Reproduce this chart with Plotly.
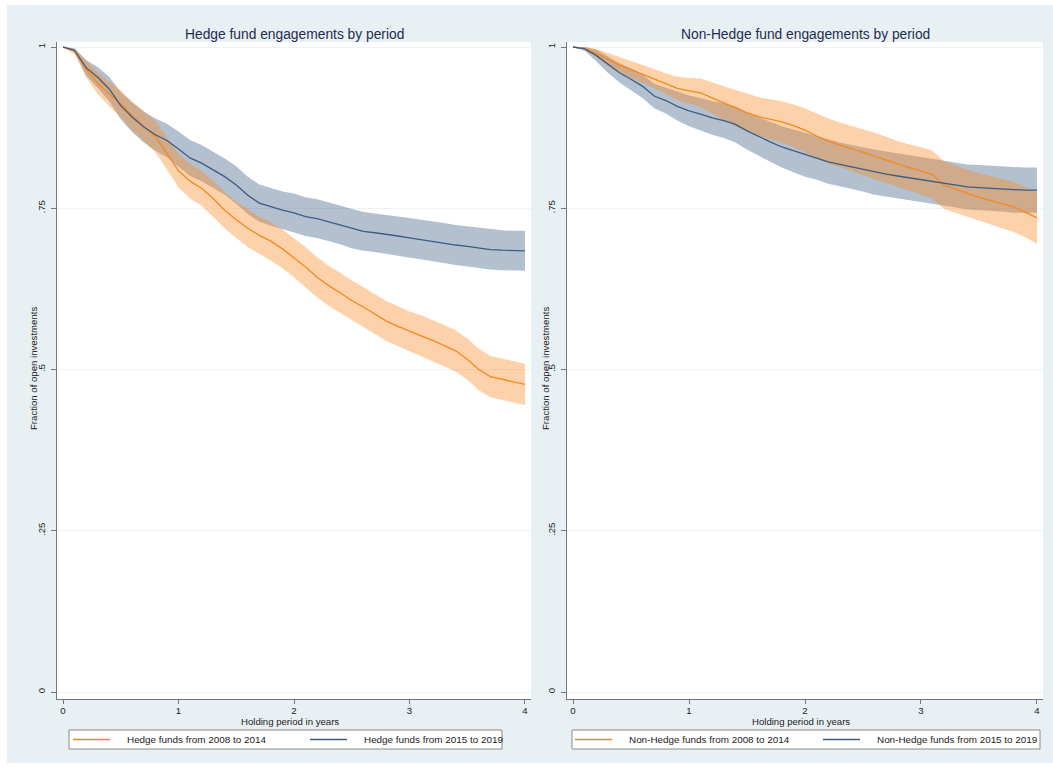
import plotly.graph_objects as go

# ---------------- data ----------------
years = [round(i * 0.1, 1) for i in range(41)]

# Hedge funds
hf_0814 = [1.000, 0.993, 0.966, 0.944, 0.927, 0.912, 0.893, 0.877, 0.861, 0.835,
           0.808, 0.792, 0.781, 0.765, 0.747, 0.732, 0.719, 0.708, 0.699, 0.687,
           0.673, 0.659, 0.643, 0.630, 0.619, 0.607, 0.597, 0.586, 0.575, 0.567,
           0.559, 0.552, 0.545, 0.537, 0.529, 0.516, 0.500, 0.489, 0.485, 0.481, 0.477]
hf_0814_ci = [0.000, 0.004, 0.013, 0.017, 0.019, 0.021, 0.022, 0.023, 0.024, 0.025,
              0.026, 0.027, 0.027, 0.028, 0.028, 0.028, 0.029, 0.029, 0.030, 0.030,
              0.030, 0.031, 0.031, 0.031, 0.031, 0.031, 0.031, 0.031, 0.031, 0.031,
              0.031, 0.032, 0.032, 0.032, 0.032, 0.032, 0.032, 0.032, 0.032, 0.032, 0.032]
hf_1519 = [1.000, 0.995, 0.968, 0.953, 0.935, 0.909, 0.891, 0.876, 0.864, 0.855,
           0.842, 0.828, 0.820, 0.810, 0.799, 0.786, 0.770, 0.758, 0.752, 0.747,
           0.743, 0.737, 0.734, 0.729, 0.724, 0.718, 0.714, 0.712, 0.710, 0.707,
           0.704, 0.701, 0.699, 0.696, 0.693, 0.691, 0.688, 0.686, 0.685, 0.684, 0.684]
hf_1519_ci = [0.000, 0.003, 0.012, 0.016, 0.019, 0.021, 0.023, 0.024, 0.025, 0.026,
              0.027, 0.028, 0.028, 0.028, 0.028, 0.029, 0.029, 0.029, 0.029, 0.029,
              0.030, 0.030, 0.030, 0.030, 0.030, 0.030, 0.030, 0.030, 0.030, 0.030,
              0.031, 0.031, 0.031, 0.031, 0.031, 0.031, 0.031, 0.031, 0.031, 0.031, 0.031]

# Non-Hedge funds
nh_0814 = [1.000, 0.998, 0.990, 0.981, 0.972, 0.965, 0.958, 0.951, 0.943, 0.936,
           0.932, 0.929, 0.921, 0.913, 0.905, 0.898, 0.892, 0.888, 0.884, 0.878,
           0.871, 0.862, 0.854, 0.848, 0.843, 0.837, 0.831, 0.825, 0.818, 0.813,
           0.808, 0.802, 0.786, 0.779, 0.773, 0.767, 0.762, 0.757, 0.752, 0.744, 0.735]
nh_0814_ci = [0.000, 0.002, 0.007, 0.010, 0.012, 0.013, 0.014, 0.015, 0.016, 0.018,
              0.020, 0.022, 0.024, 0.026, 0.028, 0.029, 0.030, 0.031, 0.032, 0.033,
              0.034, 0.035, 0.035, 0.035, 0.035, 0.036, 0.036, 0.036, 0.036, 0.036,
              0.037, 0.037, 0.037, 0.037, 0.037, 0.037, 0.038, 0.038, 0.039, 0.039, 0.040]
nh_1519 = [1.000, 0.997, 0.987, 0.973, 0.960, 0.950, 0.939, 0.924, 0.917, 0.908,
           0.901, 0.896, 0.890, 0.886, 0.880, 0.870, 0.861, 0.853, 0.845, 0.839,
           0.833, 0.828, 0.822, 0.818, 0.814, 0.810, 0.806, 0.803, 0.800, 0.797,
           0.794, 0.791, 0.789, 0.786, 0.783, 0.782, 0.781, 0.780, 0.778, 0.778, 0.778]
nh_1519_ci = [0.000, 0.003, 0.009, 0.013, 0.015, 0.017, 0.018, 0.019, 0.020, 0.022,
              0.024, 0.025, 0.026, 0.027, 0.028, 0.029, 0.030, 0.031, 0.032, 0.033,
              0.034, 0.034, 0.034, 0.034, 0.034, 0.034, 0.035, 0.035, 0.035, 0.035,
              0.035, 0.035, 0.035, 0.035, 0.035, 0.035, 0.035, 0.035, 0.035, 0.035, 0.035]

y_ticks = [0, 0.25, 0.5, 0.75, 1]
y_tick_labels = ["0", ".25", ".5", ".75", "1"]
x_ticks = [0, 1, 2, 3, 4]

panel_titles = ["Hedge fund engagements by period", "Non-Hedge fund engagements by period"]
x_title = "Holding period in years"
y_title = "Fraction of open investments"
legend_names = [["Hedge funds from 2008 to 2014", "Hedge funds from 2015 to 2019"],
                ["Non-Hedge funds from 2008 to 2014", "Non-Hedge funds from 2015 to 2019"]]

# ---------------- style ----------------
W, H = 1053, 767
BG = "#e9f0f3"
ORANGE = "#f5891f"
ORANGE_FILL = "rgba(250,140,40,0.40)"
BLUE = "#3d5c82"
BLUE_FILL = "rgba(65,98,136,0.40)"
FONT = "Liberation Sans, Arial, Helvetica, sans-serif"
TXT = "#222222"
SMALL = 9.6


def px_x(p):
    return p / W


def px_y(p):
    return 1 - p / H


fig = go.Figure()

panels = [
    dict(xa="x", ya="y",
         series=[(hf_1519, hf_1519_ci, BLUE, BLUE_FILL, legend_names[0][1]),
                 (hf_0814, hf_0814_ci, ORANGE, ORANGE_FILL, legend_names[0][0])]),
    dict(xa="x2", ya="y2",
         series=[(nh_1519, nh_1519_ci, BLUE, BLUE_FILL, legend_names[1][1]),
                 (nh_0814, nh_0814_ci, ORANGE, ORANGE_FILL, legend_names[1][0])]),
]

for p in panels:
    # confidence bands first (blue then orange)
    for vals, ci, lc, fc, name in p["series"]:
        upper = [v + c for v, c in zip(vals, ci)]
        lower = [v - c for v, c in zip(vals, ci)]
        fig.add_trace(go.Scatter(
            x=years + years[::-1], y=upper + lower[::-1],
            fill="toself", fillcolor=fc, line=dict(width=0),
            mode="lines", hoverinfo="skip", showlegend=False,
            xaxis=p["xa"], yaxis=p["ya"]))
    for vals, ci, lc, fc, name in p["series"][::-1]:
        fig.add_trace(go.Scatter(
            x=years, y=vals, mode="lines", name=name, showlegend=False,
            line=dict(color=lc, width=1.3),
            xaxis=p["xa"], yaxis=p["ya"]))

yrange = [(692 - 699) / 645, (692 - 42) / 645]
xr = [-0.052, 4.052]
ydom = [px_y(699), px_y(42)]

axis_common = dict(
    showline=True, linecolor="#777777", linewidth=1,
    ticks="outside", tickcolor="#777777",
    tickfont=dict(family=FONT, size=SMALL, color=TXT),
    zeroline=False, fixedrange=True,
)
xaxis_style = dict(range=xr, tickvals=x_ticks, showgrid=False, ticklen=4,
                   ticklabelstandoff=-2, **axis_common)
yaxis_style = dict(domain=ydom, range=yrange, tickvals=y_ticks, ticktext=y_tick_labels,
                   tickangle=-90, ticklen=5, ticklabelstandoff=2, showgrid=True,
                   gridcolor="#eef3f4", gridwidth=1, **axis_common)

fig.update_layout(
    width=W, height=H, autosize=False,
    margin=dict(l=0, r=0, t=0, b=0),
    paper_bgcolor=BG, plot_bgcolor="white",
    font=dict(family=FONT, color=TXT),
    showlegend=False,
    xaxis=dict(domain=[px_x(57), px_x(531)], anchor="y", **xaxis_style),
    yaxis=dict(anchor="x", **yaxis_style),
    xaxis2=dict(domain=[px_x(567), px_x(1043)], anchor="y2", **xaxis_style),
    yaxis2=dict(anchor="x2", **yaxis_style),
)

# panel titles and axis titles
for i, (cx, ytx) in enumerate([(294, 33), (805, 545)]):
    fig.add_annotation(text=panel_titles[i], xref="paper", yref="paper",
                       x=px_x(cx), y=px_y(34), xanchor="center", yanchor="middle",
                       showarrow=False, font=dict(family=FONT, size=13.8, color="#1f2d4d"))
    fig.add_annotation(text=x_title, xref="paper", yref="paper",
                       x=px_x(cx - 4), y=px_y(721), xanchor="center", yanchor="middle",
                       showarrow=False, font=dict(family=FONT, size=SMALL, color=TXT))
    fig.add_annotation(text=y_title, xref="paper", yref="paper", textangle=-90,
                       x=px_x(ytx), y=px_y(369), xanchor="center", yanchor="middle",
                       showarrow=False, font=dict(family=FONT, size=SMALL, color=TXT))

# legends (one box per panel)
legend_boxes = [(69, 502, 73, 310), (572, 1040, 575, 823)]
for i, (bx0, bx1, l1, l2) in enumerate(legend_boxes):
    fig.add_shape(type="rect", xref="paper", yref="paper",
                  x0=px_x(bx0), x1=px_x(bx1), y0=px_y(749), y1=px_y(730),
                  fillcolor="white", line=dict(color="#8a8a8a", width=1))
    for lx0, col, name in [(l1, ORANGE, legend_names[i][0]), (l2, BLUE, legend_names[i][1])]:
        fig.add_shape(type="line", xref="paper", yref="paper",
                      x0=px_x(lx0), x1=px_x(lx0 + 37), y0=px_y(739.5), y1=px_y(739.5),
                      line=dict(color=col, width=1.3))
        fig.add_annotation(text=name, xref="paper", yref="paper",
                           x=px_x(lx0 + 52), y=px_y(739.5), xanchor="left", yanchor="middle",
                           showarrow=False, font=dict(family=FONT, size=SMALL + 0.3, color=TXT))

# thin white page border around the graph region
for (x0, x1, y0, y1) in [(0, 7, 0, H), (0, W, 0, 5), (0, W, 763, H)]:
    fig.add_shape(type="rect", xref="paper", yref="paper",
                  x0=px_x(x0), x1=px_x(x1), y0=px_y(y1), y1=px_y(y0),
                  fillcolor="white", line=dict(width=0), layer="below")

fig.write_html("out.html", config={"responsive": False},
               post_script="document.body.style.margin='0';document.body.style.overflow='hidden';")
